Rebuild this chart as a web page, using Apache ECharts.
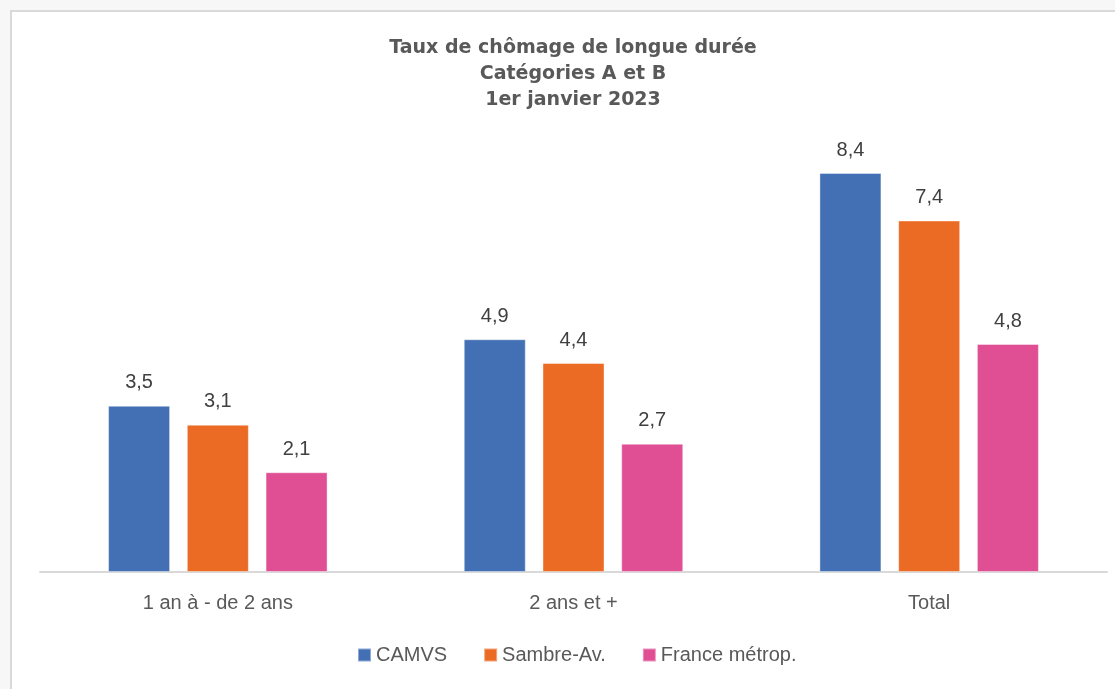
<!DOCTYPE html>
<html>
<head>
<meta charset="utf-8">
<script src="https://cdn.jsdelivr.net/npm/echarts@6/dist/echarts.min.js"></script>
<style>
  html, body { margin: 0; padding: 0; background: #f7f7f7; }
  #chart { width: 1115px; height: 689px; }
</style>
</head>
<body>
<div id="chart"></div>
<script>
  const categories = ['1 an à - de 2 ans', '2 ans et +', 'Total']
  const series = [
    { name: 'CAMVS', color: '#4370b4', values: [3.5, 4.9, 8.4] },
    { name: 'Sambre-Av.', color: '#eb6a24', values: [3.1, 4.4, 7.4] },
    { name: 'France métrop.', color: '#e04e93', values: [2.1, 2.7, 4.8] },
  ]

  const myChart = echarts.init(document.getElementById('chart'))
  const labelFont = '"Liberation Sans", "DejaVu Sans", sans-serif'

  const option = {
    backgroundColor: '#f7f7f7',
    graphic: [
      {
        type: 'rect',
        z: -10,
        shape: { x: 11, y: 11, width: 1200, height: 800 },
        style: { fill: '#ffffff', stroke: '#d9d9d9', lineWidth: 2 },
      },
    ],
    title: {
      text: 'Taux de chômage de longue durée\nCatégories A et B\n1er janvier 2023',
      left: 568,
      top: 30,
      textAlign: 'center',
      textStyle: {
        fontFamily: '"DejaVu Sans", sans-serif',
        fontWeight: 'bold',
        fontSize: 19,
        lineHeight: 26,
        color: '#595959',
      },
    },
    legend: {
      bottom: 19,
      left: 352,
      itemWidth: 13,
      itemHeight: 13,
      itemGap: 36,
      icon: 'rect',
      textStyle: { fontFamily: labelFont, fontSize: 20, color: '#595959' },
      data: series.map((s) => s.name),
    },
    grid: { left: 40, right: 8, top: 97, bottom: 117 },
    xAxis: {
      type: 'category',
      data: categories,
      axisTick: { show: false },
      axisLine: { lineStyle: { color: '#d9d9d9', width: 2 } },
      axisLabel: { fontFamily: labelFont, fontSize: 20, color: '#595959', margin: 21 },
    },
    yAxis: {
      type: 'value',
      min: 0,
      max: 10,
      show: false,
      splitLine: { show: false },
    },
    series: series.map((s) => ({
      name: s.name,
      type: 'bar',
      data: s.values,
      barWidth: 62,
      barGap: '27%',
      itemStyle: { color: s.color, borderColor: 'rgba(255,255,255,0.4)', borderWidth: 1 },
      label: {
        show: true,
        position: 'top',
        distance: 13,
        fontFamily: labelFont,
        fontSize: 20,
        color: '#404040',
        formatter: (p) => String(p.value).replace('.', ','),
      },
    })),
  }
  myChart.setOption(option)
</script>
</body>
</html>
